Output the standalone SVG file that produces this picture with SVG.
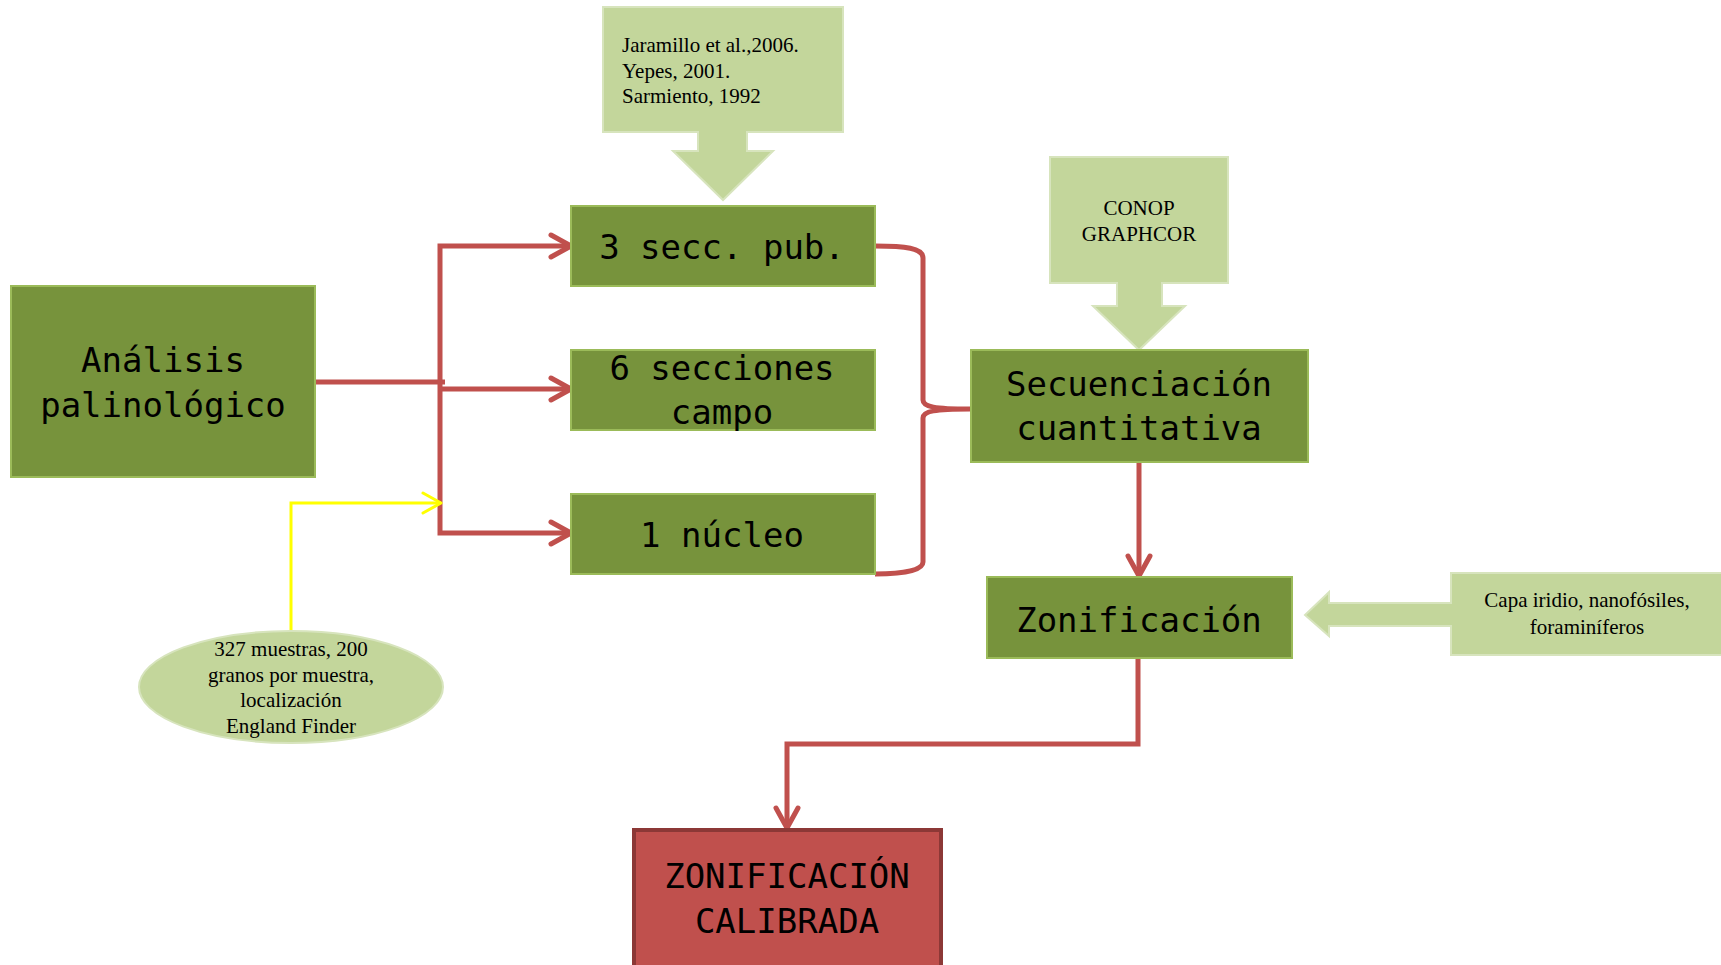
<svg xmlns="http://www.w3.org/2000/svg" width="1721" height="965" viewBox="0 0 1721 965">
<style>
.box{fill:#77933C;stroke:#9BBB59;stroke-width:2}
.lt{fill:#C3D69B;stroke:#D7E4BD;stroke-width:2}
.red{fill:#C0504D;stroke:#8C3836;stroke-width:4}
.mono{font-family:"DejaVu Sans Mono","Liberation Mono",monospace;font-size:34px;fill:#000;text-anchor:middle}
.ser{font-family:"Liberation Serif","Times New Roman",serif;font-size:21px;fill:#000}
.c{text-anchor:middle}
.rl{fill:none;stroke:#C0504D;stroke-width:5}
.yl{fill:none;stroke:#FFFF00;stroke-width:3}
</style>
<defs>
<marker id="ar" markerUnits="userSpaceOnUse" markerWidth="40" markerHeight="40" viewBox="-30 -20 40 40" refX="0" refY="0" orient="auto-start-reverse" overflow="visible">
<path d="M-20,-11 L0,0 L-20,11" fill="none" stroke="#C0504D" stroke-width="5" stroke-linecap="round" stroke-linejoin="round"/>
</marker>
<marker id="ay" markerUnits="userSpaceOnUse" markerWidth="40" markerHeight="40" viewBox="-30 -20 40 40" refX="0" refY="0" orient="auto" overflow="visible">
<path d="M-18,-10 L0,0 L-18,10" fill="none" stroke="#FFFF00" stroke-width="3" stroke-linecap="round" stroke-linejoin="round"/>
</marker>
</defs>
<rect width="1721" height="965" fill="#fff"/>

<g id="connectors">
<path class="rl" d="M316,382 H445"/>
<path class="rl" d="M571,246 H440 V533 H571" marker-start="url(#ar)" marker-end="url(#ar)"/>
<path class="rl" d="M440,389 H571" marker-end="url(#ar)"/>
<path class="yl" d="M291,630 V503 H441" marker-end="url(#ay)"/>
<path class="rl" d="M875,246 C905,246 923,248 923,258 L923,400 C923,407 935,409 970,409 C935,409 923,411 923,418 L923,562 C923,570 905,574 875,574"/>
<path class="rl" d="M1139,462 V576" marker-end="url(#ar)"/>
<path class="rl" d="M1138,658 V744 H787 V828" marker-end="url(#ar)"/>
</g>

<g id="n-analisis">
<rect class="box" x="11" y="286" width="304" height="191"/>
<text class="mono" x="163" y="372">Análisis</text>
<text class="mono" x="163" y="417">palinológico</text>
</g>

<g id="n-jaramillo">
<path class="lt" d="M603,7 H843 V132 H747 V151 H773 L723,200 L673,151 H698 V132 H603 Z"/>
<text class="ser" x="622" y="52">Jaramillo et al.,2006.</text>
<text class="ser" x="622" y="77.5">Yepes, 2001.</text>
<text class="ser" x="622" y="103">Sarmiento, 1992</text>
</g>

<g id="n-secc-pub">
<rect class="box" x="571" y="206" width="304" height="80"/>
<text class="mono" x="722" y="259">3 secc. pub.</text>
</g>

<g id="n-secciones-campo">
<rect class="box" x="571" y="350" width="304" height="80"/>
<text class="mono" x="722" y="380">6 secciones</text>
<text class="mono" x="722" y="424">campo</text>
</g>

<g id="n-nucleo">
<rect class="box" x="571" y="494" width="304" height="80"/>
<text class="mono" x="722" y="547">1 núcleo</text>
</g>

<g id="n-muestras">
<ellipse class="lt" cx="291" cy="687" rx="152" ry="56"/>
<text class="ser c" x="291" y="656">327 muestras, 200</text>
<text class="ser c" x="291" y="682">granos por muestra,</text>
<text class="ser c" x="291" y="707">localización</text>
<text class="ser c" x="291" y="733">England Finder</text>
</g>

<g id="n-conop">
<path class="lt" d="M1050,157 H1228 V283 H1162 V306 H1185 L1139,350 L1093,306 H1117 V283 H1050 Z"/>
<text class="ser c" x="1139" y="215">CONOP</text>
<text class="ser c" x="1139" y="241">GRAPHCOR</text>
</g>

<g id="n-secuenciacion">
<rect class="box" x="971" y="350" width="337" height="112"/>
<text class="mono" x="1139" y="396">Secuenciación</text>
<text class="mono" x="1139" y="440">cuantitativa</text>
</g>

<g id="n-zonificacion">
<rect class="box" x="987" y="577" width="305" height="81"/>
<text class="mono" x="1139" y="632">Zonificación</text>
</g>

<g id="n-capa">
<path class="lt" d="M1451,573 H1730 V655 H1451 V626 H1329 V636 L1305,615 L1329,592 V603 H1451 Z"/>
<text class="ser c" x="1587" y="607">Capa iridio, nanofósiles,</text>
<text class="ser c" x="1587" y="634">foraminíferos</text>
</g>

<g id="n-calibrada">
<rect class="red" x="634" y="830" width="307" height="160"/>
<text class="mono" x="787" y="888">ZONIFICACIÓN</text>
<text class="mono" x="787" y="933">CALIBRADA</text>
</g>
</svg>
